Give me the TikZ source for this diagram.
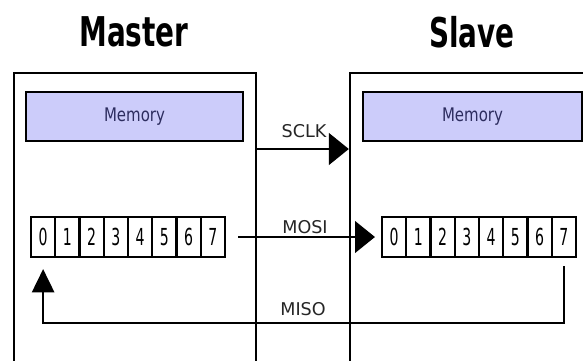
\documentclass[tikz,border=0pt]{standalone}
\usepackage{fontspec}
\usepackage{graphicx}
\setmainfont{DejaVu Sans}
\usetikzlibrary{arrows.meta, calc}
\definecolor{memfill}{RGB}{204,204,250}
\definecolor{memtext}{RGB}{45,45,95}
\newcommand{\squeeze}[2][0.68]{\scalebox{#1}[1]{#2}}

\begin{document}
\begin{tikzpicture}[x=0.03cm, y=-0.03cm,
	unit/.style={draw, line width=2pt, inner sep=0pt, minimum width=7.26cm, minimum height=8.76cm},
	memblock/.style={draw, line width=2pt, fill=memfill, inner sep=0pt, minimum height=1.47cm, text=memtext, font=\fontsize{16}{16}\selectfont},
	bitcell/.style={draw, line width=1.8pt, inner sep=0pt, minimum width=0.7275cm, minimum height=1.2cm, font=\fontsize{20}{20}\selectfont},
	headline/.style={font=\fontsize{35}{35}\selectfont\bfseries},
	sig/.style={font=\fontsize{15}{15}\selectfont, text=black!85},
	bus/.style={line width=2pt, -{Triangle[length=17pt,width=27pt]}}]
	\useasboundingbox (0,0) rectangle (583,361);
	\fill[white] (0,0) rectangle (583,361);

	\node[headline] (mtitle) at (134,32) {\squeeze{Master}};
	\node[headline] (stitle) at (472,32) {\squeeze{Slave}};

	\node[unit] (mbox) at (135,219) {};
	\node[unit] (sbox) at (471,219) {};

	\node[memblock, minimum width=6.51cm] (mmem) at (134.5,116.5) {\squeeze[0.8]{Memory}};
	\node[memblock, minimum width=6.57cm] (smem) at (472.5,116.5) {\squeeze[0.8]{Memory}};

	\foreach \i in {0,...,7} {
		\node[bitcell] (m\i) at ({43.125+24.25*\i},237) {\squeeze[0.6]{\i}};
		\node[bitcell] (s\i) at ({394.125+24.25*\i},237) {\squeeze[0.6]{\i}};
	}

	\node[sig] (sclk) at (304,131) {SCLK};
	\node[sig] (mosi) at (305,227) {MOSI};
	\node[sig] (miso) at (303,309) {MISO};

	\coordinate (clk) at (300,149);
	\coordinate (ret) at (300,323);

	\draw[bus] (clk -| mbox.east) -- (clk -| sbox.west);
	\draw[bus, shorten <=0.36cm, shorten >=0.18cm] (m7.east) -- (s0.west);
	\draw[line width=2pt, -{Triangle[length=20pt,width=19pt]}] ([yshift=-0.24cm]s7.south) -- (s7 |- ret) -| ([yshift=-0.33cm]m0.south);
\end{tikzpicture}
\end{document}
